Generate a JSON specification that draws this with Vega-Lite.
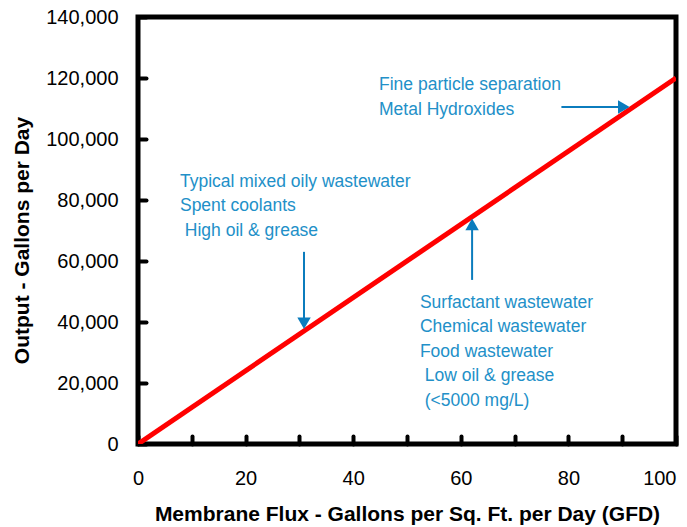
{
  "$schema": "https://vega.github.io/schema/vega-lite/v6.json",
  "width": 538,
  "height": 427,
  "autosize": {"type": "none"},
  "padding": {"left": 138, "top": 17, "right": 11, "bottom": 83},
  "background": "white",
  "config": {
    "view": {"stroke": "black", "strokeWidth": 5},
    "font": "Liberation Sans",
    "axis": {
      "grid": false,
      "domain": false,
      "ticks": true,
      "tickColor": "black",
      "tickWidth": 4,
      "tickSize": 8,
      "offset": -8,
      "tickCap": "round",
      "labelFont": "Liberation Sans",
      "labelFontSize": 20,
      "labelColor": "black",
      "titleFont": "Liberation Sans",
      "titleFontSize": 21,
      "titleFontWeight": "bold",
      "titleColor": "black"
    }
  },
  "datasets": {
    "line": [
      {"flux": 0, "output": 0},
      {"flux": 100, "output": 120000}
    ],
    "arrows": [
      {"x": 30.86, "y": 63000, "x2": 30.86, "y2": 41000},
      {"x": 62.1, "y": 53800, "x2": 62.1, "y2": 70500},
      {"x": 78.7, "y": 110500, "x2": 89.6, "y2": 110500}
    ],
    "heads": [
      {"x": 30.86, "y": 39600, "shape": "triangle-down"},
      {"x": 62.1, "y": 72000, "shape": "triangle-up"},
      {"x": 90.3, "y": 110500, "shape": "triangle-right"}
    ],
    "notes": [
      {"x": 7.8, "y": 84270, "label": "Typical mixed oily wastewater\nSpent coolants\n\u200b\u00a0High oil & grease"},
      {"x": 52.4, "y": 44700, "label": "Surfactant wastewater\nChemical wastewater\nFood wastewater\n\u200b\u00a0Low oil & grease\n\u200b\u00a0(<5000 mg/L)"},
      {"x": 44.8, "y": 115940, "label": "Fine particle separation\nMetal Hydroxides"}
    ]
  },
  "layer": [
    {
      "data": {"name": "line"},
      "mark": {"type": "line", "color": "#ff0000", "strokeWidth": 5, "clip": true},
      "encoding": {
        "x": {
          "field": "flux", "type": "quantitative",
          "scale": {"domain": [0, 100], "nice": false},
          "axis": {
            "title": "Membrane Flux - Gallons per Sq. Ft. per Day (GFD)",
            "values": [0, 10, 20, 30, 40, 50, 60, 70, 80, 90, 100],
            "labelExpr": "datum.value % 20 == 0 ? format(datum.value, 'd') : ''",
            "labelAlign": {"condition": {"test": "datum.value == 100", "value": "right"}, "value": "center"},
            "labelPadding": 24,
            "labelOverlap": false,
            "titleY": 78,
            "titleBaseline": "middle"
          }
        },
        "y": {
          "field": "output", "type": "quantitative",
          "scale": {"domain": [0, 140000], "nice": false},
          "axis": {
            "title": "Output - Gallons per Day",
            "values": [0, 10000, 20000, 30000, 40000, 50000, 60000, 70000, 80000, 90000, 100000, 110000, 120000, 130000, 140000],
            "labelExpr": "datum.value % 20000 == 0 ? format(datum.value, ',') : ''",
            "labelPadding": 20,
            "labelOverlap": false,
            "titleX": -124,
            "titleY": 223,
            "titleAlign": "center",
            "titleBaseline": "middle",
            "titleAngle": -90
          }
        }
      }
    },
    {
      "data": {"name": "arrows"},
      "mark": {"type": "rule", "color": "#0b7cbd", "strokeWidth": 2},
      "encoding": {
        "x": {"field": "x", "type": "quantitative"},
        "y": {"field": "y", "type": "quantitative"},
        "x2": {"field": "x2"},
        "y2": {"field": "y2"}
      }
    },
    {
      "data": {"name": "heads"},
      "mark": {"type": "point", "filled": true, "color": "#0b7cbd", "opacity": 1, "size": 180},
      "encoding": {
        "x": {"field": "x", "type": "quantitative"},
        "y": {"field": "y", "type": "quantitative"},
        "shape": {"field": "shape", "type": "nominal", "scale": null}
      }
    },
    {
      "data": {"name": "notes"},
      "mark": {
        "type": "text",
        "align": "left",
        "baseline": "alphabetic",
        "lineBreak": "\n",
        "lineHeight": 24.5,
        "font": "Liberation Sans",
        "fontSize": 17.5,
        "color": "#2290c8"
      },
      "encoding": {
        "x": {"field": "x", "type": "quantitative"},
        "y": {"field": "y", "type": "quantitative"},
        "text": {"field": "label", "type": "nominal"}
      }
    }
  ]
}
